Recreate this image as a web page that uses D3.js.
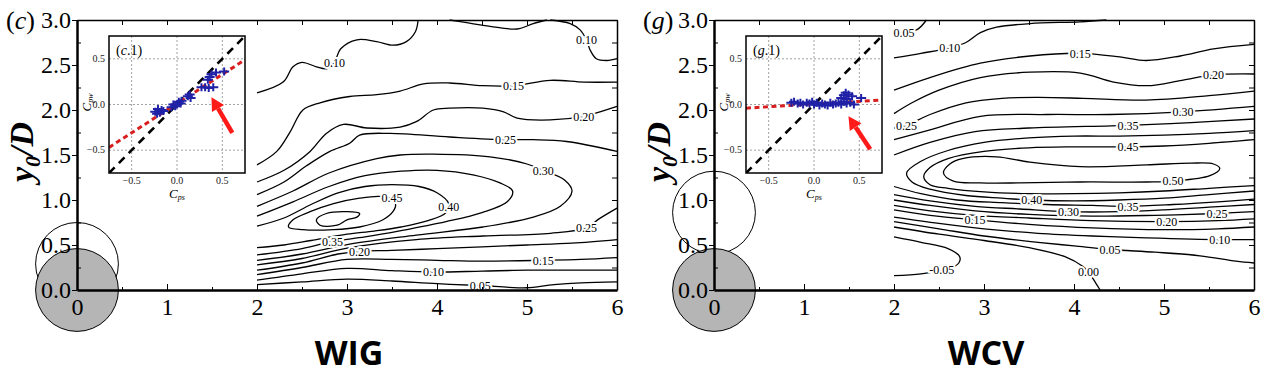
<!DOCTYPE html>
<html>
<head>
<meta charset="utf-8">
<script src="https://cdn.jsdelivr.net/npm/d3@7"></script>
<style>
body { margin: 0; background: #fff; }
text { font-family: "Liberation Serif", "Times New Roman", Times, serif; }
</style>
</head>
<body>
<div id="result"></div>
<script>
/* ---- data ---- */
var xTicks = [0, 1, 2, 3, 4, 5, 6];
var xMinor = [0.5, 1.5, 2.5, 3.5, 4.5, 5.5];
var yTicks = [0, 0.5, 1, 1.5, 2, 2.5, 3];
var yMinor = [0.25, 0.75, 1.25, 1.75, 2.25, 2.75];
var insetTicks = [-0.5, 0, 0.5];
var cylR = 0.46;

// cylinders: [x/D, y0/D, filled]
var wigCyl = [[0, 0.29, 0], [0, 0, 1]];
var wcvCyl = [[0, 0.86, 0], [0, 0, 1]];

// WIG contour lines [x/D, y0/D]
var wig010a = [[2.0,2.19],[2.29,2.31],[2.40,2.48],[2.50,2.53],[2.66,2.48],[2.78,2.46],[2.86,2.53],[2.93,2.68],[3.11,2.78],[3.33,2.76],[3.51,2.72],[3.66,2.76],[3.76,2.87],[3.79,3.0]];
var wig010b = [[4.14,3.0],[4.33,2.97],[4.59,2.93],[4.89,2.90],[5.07,2.96],[5.22,3.0]];
var wig010c = [[5.26,3.0],[5.48,2.96],[5.59,2.89],[5.66,2.78],[5.70,2.67],[5.77,2.57],[5.89,2.55],[6.0,2.57]];
var wig015a = [[2.0,1.39],[2.22,1.54],[2.37,1.76],[2.51,2.0],[2.70,2.08],[3.03,2.15],[3.33,2.17],[3.59,2.21],[3.85,2.29],[4.14,2.30],[4.51,2.27],[4.85,2.27],[5.26,2.33],[5.63,2.31],[6.0,2.31]];
var wig020a = [[2.0,1.20],[2.3,1.33],[2.59,1.54],[2.77,1.74],[2.96,1.84],[3.22,1.80],[3.59,1.81],[3.77,1.87],[3.96,2.0],[4.14,2.02],[4.51,2.02],[4.74,1.98],[4.89,1.91],[5.26,1.89],[5.63,1.93],[5.81,1.98],[6.0,2.04]];
var wig025a = [[2.0,1.06],[2.3,1.20],[2.55,1.38],[2.81,1.54],[3.03,1.63],[3.14,1.72],[3.48,1.74],[4.14,1.70],[4.76,1.67],[5.07,1.67],[5.44,1.65],[6.0,1.54]];
var wig030 = [[2.0,0.93],[2.4,1.10],[2.8,1.30],[3.33,1.46],[3.59,1.50],[3.96,1.51],[4.59,1.48],[5.0,1.40],[5.18,1.33],[5.42,1.22],[5.50,1.10],[5.37,0.93],[5.07,0.81],[4.51,0.70],[3.77,0.61],[3.03,0.51],[2.5,0.40],[2.0,0.33]];
var wig035 = [[2.0,0.82],[2.4,0.98],[2.8,1.15],[3.2,1.27],[3.6,1.32],[4.0,1.33],[4.4,1.28],[4.7,1.19],[4.84,1.10],[4.78,0.98],[4.5,0.86],[4.1,0.76],[3.6,0.66],[3.2,0.59],[2.84,0.54],[2.5,0.46],[2.0,0.39]];
var wig040 = [[2.0,0.71],[2.3,0.80],[2.6,0.95],[2.9,1.08],[3.2,1.15],[3.5,1.17],[3.8,1.15],[4.0,1.08],[4.13,0.96],[4.10,0.86],[3.9,0.77],[3.6,0.70],[3.3,0.655],[3.0,0.62],[2.6,0.55],[2.3,0.50],[2.0,0.47]];
var wig045 = [[3.51,0.87],[3.40,0.78],[3.14,0.70],[2.85,0.67],[2.51,0.67],[2.35,0.70],[2.40,0.78],[2.59,0.87],[2.85,0.96],[3.14,1.02],[3.37,1.04],[3.50,1.01],[3.54,0.95]];
var wig050 = [[2.66,0.78],[2.77,0.85],[3.0,0.87],[3.14,0.85],[3.11,0.81],[3.0,0.78],[2.89,0.72],[2.70,0.72]];
var wig025b = [[6.0,0.91],[5.8,0.79],[5.66,0.69],[5.26,0.63],[4.51,0.60],[3.77,0.56],[3.03,0.47],[2.5,0.35],[2.0,0.28]];
var wig020b = [[2.0,0.22],[2.5,0.30],[2.9,0.40],[3.14,0.43],[3.5,0.44],[4.0,0.46],[4.5,0.48],[5.0,0.50],[5.5,0.52],[6.0,0.56]];
var wig015b = [[2.0,0.17],[2.5,0.25],[3.0,0.34],[3.5,0.34],[4.0,0.33],[4.5,0.32],[5.18,0.33],[5.6,0.34],[6.0,0.36]];
var wig010d = [[2.0,0.11],[2.5,0.18],[3.0,0.24],[3.5,0.215],[3.96,0.20],[4.5,0.21],[5.0,0.22],[5.5,0.22],[6.0,0.22]];
var wig005 = [[2.0,0.06],[2.5,0.09],[3.0,0.12],[3.5,0.10],[4.0,0.07],[4.48,0.05],[4.8,0.03],[5.0,0.025],[5.3,0.06],[5.6,0.08],[6.0,0.09]];
var wigLabels = [["0.10",2.86,2.53],["0.10",5.66,2.78],["0.15",4.85,2.27],["0.20",5.63,1.93],["0.25",4.76,1.67],["0.30",5.18,1.33],["0.45",3.50,1.03],["0.40",4.13,0.93],["0.25",5.66,0.69],["0.35",2.84,0.54],["0.20",3.14,0.43],["0.15",5.18,0.33],["0.10",3.96,0.20],["0.05",4.48,0.05]];

// WCV contour lines
var wcv005a = [[2.0,2.85],[2.25,2.89],[2.36,3.0]];
var wcv010a = [[2.0,2.58],[2.3,2.63],[2.62,2.69],[2.8,2.75],[2.96,2.86],[3.14,2.92],[3.51,2.96],[4.07,2.98],[4.36,3.0]];
var wcv015a = [[2.0,2.22],[2.4,2.36],[2.96,2.52],[3.51,2.60],[4.07,2.63],[4.51,2.59],[4.8,2.55],[5.18,2.60],[5.55,2.68],[6.0,2.73]];
var wcv020a = [[2.0,1.96],[2.2,2.08],[2.5,2.22],[2.96,2.36],[3.51,2.42],[4.07,2.41],[4.44,2.31],[4.81,2.27],[5.2,2.33],[5.55,2.39],[6.0,2.40]];
var wcv025a = [[2.0,1.80],[2.14,1.83],[2.4,1.95],[2.8,2.08],[3.2,2.13],[3.6,2.14],[4.1,2.13],[4.8,2.11],[5.5,2.16],[6.0,2.21]];
var wcv030a = [[2.0,1.67],[2.4,1.78],[2.96,1.93],[3.7,1.95],[4.4,1.95],[5.21,1.98],[6.0,2.04]];
var wcv035a = [[2.0,1.50],[2.4,1.64],[2.9,1.76],[3.5,1.80],[4.6,1.83],[5.3,1.86],[6.0,1.90]];
var wcv040 = [[6.0,1.77],[5.5,1.74],[5.0,1.72],[4.5,1.71],[4.0,1.71],[3.5,1.69],[3.0,1.64],[2.6,1.55],[2.3,1.43],[2.14,1.30],[2.2,1.20],[2.4,1.12],[2.8,1.05],[3.2,1.02],[3.53,1.0],[4.0,0.99],[4.5,1.0],[5.0,1.02],[5.5,1.06],[6.0,1.10]];
var wcv045 = [[6.0,1.67],[5.5,1.63],[5.0,1.60],[4.6,1.59],[4.0,1.59],[3.5,1.58],[3.0,1.54],[2.6,1.46],[2.4,1.36],[2.33,1.26],[2.4,1.17],[2.6,1.13],[3.0,1.09],[3.5,1.07],[4.0,1.07],[4.5,1.08],[5.0,1.10],[5.5,1.13],[6.0,1.16]];
var wcv050 = [[2.55,1.30],[2.62,1.40],[2.76,1.46],[3.14,1.48],[3.51,1.42],[4.07,1.37],[4.81,1.39],[5.3,1.41],[5.55,1.40],[5.62,1.35],[5.51,1.27],[5.10,1.21],[4.81,1.20],[4.07,1.20],[3.4,1.19],[2.96,1.19],[2.66,1.21]];
var wcv035b = [[2.0,1.15],[2.3,1.07],[2.7,1.0],[3.2,0.97],[3.7,0.95],[4.2,0.94],[4.60,0.93],[5.1,0.95],[5.6,0.98],[6.0,1.01]];
var wcv030b = [[2.0,1.06],[2.4,0.99],[2.9,0.93],[3.4,0.90],[3.94,0.87],[4.5,0.87],[5.0,0.89],[5.5,0.92],[6.0,0.95]];
var wcv025b = [[2.0,1.0],[2.4,0.94],[2.9,0.88],[3.5,0.84],[4.2,0.82],[4.9,0.83],[5.59,0.85],[6.0,0.87]];
var wcv020b = [[2.0,0.94],[2.4,0.88],[2.9,0.83],[3.5,0.80],[4.2,0.77],[5.03,0.76],[5.6,0.77],[6.0,0.79]];
var wcv015b = [[2.0,0.89],[2.4,0.83],[2.90,0.78],[3.5,0.73],[4.2,0.69],[5.0,0.67],[5.6,0.68],[6.0,0.70]];
var wcv010b = [[2.0,0.81],[2.5,0.74],[3.0,0.68],[3.6,0.63],[4.2,0.60],[4.8,0.58],[5.62,0.56],[6.0,0.56]];
var wcv005b = [[2.0,0.76],[2.5,0.68],[3.0,0.60],[3.6,0.53],[4.0,0.49],[4.40,0.45],[4.9,0.42],[5.4,0.38],[5.8,0.32],[6.0,0.30]];
var wcv000 = [[2.0,0.70],[2.5,0.62],[3.0,0.55],[3.5,0.47],[3.9,0.37],[4.1,0.26],[4.16,0.20],[4.24,0.08],[4.29,0.0]];
var wcvM005 = [[2.0,0.59],[2.3,0.53],[2.6,0.46],[2.73,0.37],[2.72,0.30],[2.62,0.24],[2.53,0.22],[2.3,0.18],[2.0,0.16]];
var wcvLabels = [["0.05",2.11,2.86],["0.10",2.62,2.69],["0.15",4.07,2.63],["0.20",5.55,2.39],["0.25",2.14,1.83],["0.30",5.21,1.98],["0.35",4.60,1.83],["0.45",4.60,1.59],["0.50",5.10,1.21],["0.40",3.53,1.0],["0.35",4.60,0.93],["0.30",3.94,0.87],["0.25",5.59,0.85],["0.20",5.03,0.76],["0.15",2.90,0.78],["0.10",5.62,0.56],["0.05",4.40,0.45],["0.00",4.16,0.20],["-0.05",2.53,0.22]];

// insets: [Cps, Cpw]
var refLine = [[-0.75, -0.75], [0.75, 0.75]];
var wigFit = [[-0.75, -0.47], [0.75, 0.49]];
var wcvFit = [[-0.75, -0.04], [0.75, 0.05]];
var wigPts = [[-0.24,-0.08],[-0.21,-0.05],[-0.19,-0.09],[-0.17,-0.06],[-0.15,-0.07],[-0.22,-0.10],
  [-0.06,-0.03],[-0.04,0.0],[-0.02,-0.02],[0.0,0.0],[0.02,0.03],[0.04,0.01],[0.05,0.04],
  [0.12,0.09],[0.14,0.11],[0.15,0.07],
  [0.27,0.19],[0.31,0.19],[0.35,0.18],[0.40,0.19],
  [0.34,0.27],[0.36,0.30],[0.38,0.33],[0.43,0.35],[0.52,0.36]];
var wcvPts = [[-0.25,0.02],[-0.22,0.03],[-0.18,0.01],[-0.15,0.02],[-0.12,0.0],[-0.08,0.02],[-0.05,0.01],[-0.02,0.03],[0.0,0.0],[0.03,0.02],[0.06,-0.01],[0.09,0.01],[0.12,0.0],[0.15,-0.01],[0.18,0.02],[0.21,0.0],[0.24,0.01],[0.27,0.02],[0.30,0.0],[0.33,0.03],[0.36,0.01],[0.40,0.02],[0.44,0.0],
  [0.30,0.07],[0.33,0.10],[0.35,0.13],[0.38,0.11],[0.42,0.09],[0.36,0.06],[0.52,0.07]];
var wigArrow = [[0.61, -0.31], [0.38, 0.08]];
var wcvArrow = [[0.62, -0.49], [0.38, -0.13]];

/* ---- drawing ---- */
var serif = '"Liberation Serif", "Times New Roman", Times, serif';
var svg = d3.select("#result").append("svg").attr("width", 1269).attr("height", 375);

function styleTicks(ax, size) {
    ax.selectAll("text").style("font-family", serif).style("font-size", size + "px");
}

function drawPanel(left, P) {
    var g = svg.append("g");
    var x = d3.scaleLinear().domain([0, 6]).range([left, left + 540]);
    var y = d3.scaleLinear().domain([0, 3]).range([290, 20]);

    // cylinders (under everything)
    g.selectAll("circle.cyl").data(P.cyl).enter().append("circle")
        .attr("cx", function (d) { return x(d[0]); })
        .attr("cy", function (d) { return y(d[1]); })
        .attr("r", x(cylR) - x(0))
        .attr("fill", function (d) { return d[2] ? "#b5b5b5" : "none"; })
        .attr("stroke", "#000").attr("stroke-width", 1);

    // contours
    var line = d3.line().x(function (d) { return x(d[0]); }).y(function (d) { return y(d[1]); })
        .curve(d3.curveCatmullRom.alpha(0.5));
    var loop = d3.line().x(function (d) { return x(d[0]); }).y(function (d) { return y(d[1]); })
        .curve(d3.curveCatmullRomClosed.alpha(0.5));
    g.selectAll("path.cl").data(P.lines).enter().append("path")
        .attr("d", line).attr("fill", "none").attr("stroke", "#000").attr("stroke-width", 1.3);
    g.selectAll("path.lp").data(P.loops).enter().append("path")
        .attr("d", loop).attr("fill", "none").attr("stroke", "#000").attr("stroke-width", 1.3);
    g.selectAll("text.lab").data(P.labels).enter().append("text")
        .attr("x", function (d) { return x(d[1]); })
        .attr("y", function (d) { return y(d[2]); })
        .attr("dy", "0.35em").attr("text-anchor", "middle")
        .style("font-family", serif).style("font-size", "12px")
        .attr("stroke", "#fff").attr("stroke-width", 4).attr("paint-order", "stroke")
        .text(function (d) { return d[0]; });

    // axes
    var bot = g.append("g").attr("transform", "translate(0,290)")
        .call(d3.axisBottom(x).tickValues(xTicks).tickSize(-6).tickSizeOuter(0).tickPadding(8).tickFormat(d3.format("d")));
    bot.select(".domain").attr("stroke-width", 2.5);
    styleTicks(bot, 24);
    g.append("g").attr("transform", "translate(0,290)")
        .call(d3.axisBottom(x).tickValues(xMinor).tickSize(-3).tickFormat(""))
        .select(".domain").remove();

    var top = g.append("g").attr("transform", "translate(0,20)")
        .call(d3.axisTop(x).tickValues(xTicks.concat(xMinor)).tickSize(-5).tickSizeOuter(0).tickFormat(""));
    top.select(".domain").attr("stroke-width", 1.5);

    var lft = g.append("g").attr("transform", "translate(" + left + ",0)")
        .call(d3.axisLeft(y).tickValues(yTicks).tickSize(5).tickSizeOuter(0).tickPadding(1).tickFormat(d3.format(".1f")));
    lft.select(".domain").attr("stroke-width", 2.5);
    styleTicks(lft, 24);
    g.append("g").attr("transform", "translate(" + left + ",0)")
        .call(d3.axisLeft(y).tickValues(yMinor).tickSize(-4).tickFormat(""))
        .select(".domain").remove();

    var rgt = g.append("g").attr("transform", "translate(" + (left + 540) + ",0)")
        .call(d3.axisRight(y).tickValues(yTicks.concat(yMinor)).tickSize(-5).tickSizeOuter(0).tickFormat(""));
    rgt.select(".domain").attr("stroke-width", 1.5);

    // panel letter
    var pl = svg.append("text").attr("x", left - 71).attr("y", 29)
        .style("font-family", serif).style("font-size", "26px");
    pl.append("tspan").text("(");
    pl.append("tspan").style("font-style", "italic").text(P.letter);
    pl.append("tspan").text(")");

    // y title
    var yt = svg.append("text").attr("transform", "translate(" + (left - 44) + ",152) rotate(-90)")
        .attr("text-anchor", "middle")
        .style("font-family", serif).style("font-size", "34px")
        .style("font-weight", "bold").style("font-style", "italic");
    yt.append("tspan").text("y");
    yt.append("tspan").attr("dy", 7).style("font-size", "22px").text("0");
    yt.append("tspan").attr("dy", -7).text("/D");

    // x title
    svg.append("text").attr("x", left + 272).attr("y", 365).attr("text-anchor", "middle")
        .style("font-family", '"Open Sans", sans-serif').style("font-weight", "bold")
        .style("font-size", "34px").text(P.title);

    drawInset(g, left + 32, 36, 136, 137, P);
}

function drawInset(g, ix, iy, iw, ih, P) {
    var xi = d3.scaleLinear().domain([-0.75, 0.75]).range([ix, ix + iw]);
    var yi = d3.scaleLinear().domain([-0.75, 0.75]).range([iy + ih, iy]);
    var ins = g.append("g");
    var clipId = "clip" + P.letter;
    ins.append("clipPath").attr("id", clipId).append("rect")
        .attr("x", ix).attr("y", iy).attr("width", iw).attr("height", ih);
    ins.append("rect").attr("x", ix).attr("y", iy).attr("width", iw).attr("height", ih).attr("fill", "#fff");

    // grid
    ins.selectAll("line.gx").data(insetTicks).enter().append("line")
        .attr("x1", function (d) { return xi(d); }).attr("x2", function (d) { return xi(d); })
        .attr("y1", iy).attr("y2", iy + ih)
        .attr("stroke", "#8a8a8a").attr("stroke-width", 0.8).attr("stroke-dasharray", "2,2");
    ins.selectAll("line.gy").data(insetTicks).enter().append("line")
        .attr("y1", function (d) { return yi(d); }).attr("y2", function (d) { return yi(d); })
        .attr("x1", ix).attr("x2", ix + iw)
        .attr("stroke", "#8a8a8a").attr("stroke-width", 0.8).attr("stroke-dasharray", "2,2");

    var ln = d3.line().x(function (d) { return xi(d[0]); }).y(function (d) { return yi(d[1]); });
    var body = ins.append("g").attr("clip-path", "url(#" + clipId + ")");
    body.append("path").attr("d", ln(refLine)).attr("fill", "none")
        .attr("stroke", "#000").attr("stroke-width", 2.6).attr("stroke-dasharray", "8,6");
    body.append("path").attr("d", ln(P.fit)).attr("fill", "none")
        .attr("stroke", "#d81e1e").attr("stroke-width", 3).attr("stroke-dasharray", "5,3.5");
    body.selectAll("path.pt").data(P.pts).enter().append("path")
        .attr("transform", function (d) { return "translate(" + xi(d[0]) + "," + yi(d[1]) + ")"; })
        .attr("d", "M-5,0H5M0,-4V4").attr("stroke", "#1f22a6").attr("stroke-width", 2);

    // arrow
    var t = [xi(P.arrow[0][0]), yi(P.arrow[0][1])], h = [xi(P.arrow[1][0]), yi(P.arrow[1][1])];
    var ang = Math.atan2(h[1] - t[1], h[0] - t[0]);
    var hl = 13, hw = 7;
    var b = [h[0] - hl * Math.cos(ang), h[1] - hl * Math.sin(ang)];
    body.append("line").attr("x1", t[0]).attr("y1", t[1]).attr("x2", b[0]).attr("y2", b[1])
        .attr("stroke", "#ff1a1a").attr("stroke-width", 4.5);
    body.append("path").attr("fill", "#ff1a1a")
        .attr("d", "M" + h[0] + "," + h[1] +
            "L" + (b[0] + hw * Math.sin(ang)) + "," + (b[1] - hw * Math.cos(ang)) +
            "L" + (b[0] - hw * Math.sin(ang)) + "," + (b[1] + hw * Math.cos(ang)) + "Z");

    ins.append("rect").attr("x", ix).attr("y", iy).attr("width", iw).attr("height", ih)
        .attr("fill", "none").attr("stroke", "#000").attr("stroke-width", 1.5);

    // tick labels
    var f = d3.format(".1f");
    ins.selectAll("text.ty").data(insetTicks).enter().append("text")
        .attr("x", ix - 4).attr("y", function (d) { return yi(d); }).attr("dy", "0.32em")
        .attr("text-anchor", "end").style("font-family", serif).style("font-size", "10px").attr("fill", "#222")
        .text(function (d) { return f(d); });
    ins.selectAll("text.tx").data(insetTicks).enter().append("text")
        .attr("x", function (d) { return xi(d); }).attr("y", iy + ih + 11)
        .attr("text-anchor", "middle").style("font-family", serif).style("font-size", "10px").attr("fill", "#222")
        .text(function (d) { return f(d); });

    var xl = ins.append("text").attr("x", ix + iw / 2).attr("y", iy + ih + 25).attr("text-anchor", "middle")
        .style("font-family", serif).style("font-size", "13px").style("font-style", "italic");
    xl.append("tspan").text("C");
    xl.append("tspan").attr("dy", 2).style("font-size", "8px").text("ps");
    var yl = ins.append("text").attr("transform", "translate(" + (ix - 18) + "," + (iy + ih / 2 - 2) + ") rotate(-90)")
        .attr("text-anchor", "middle")
        .style("font-family", serif).style("font-size", "13px").style("font-style", "italic");
    yl.append("tspan").text("C");
    yl.append("tspan").attr("dy", 2).style("font-size", "8px").text("pw");

    var tt = ins.append("text").attr("x", ix + 7).attr("y", iy + 19)
        .style("font-family", serif).style("font-size", "14px");
    tt.append("tspan").text("(");
    tt.append("tspan").style("font-style", "italic").text(P.letter);
    tt.append("tspan").text(".1)");
}

drawPanel(77, {
    letter: "c", title: "WIG", cyl: wigCyl,
    lines: [wig010a, wig010b, wig010c, wig015a, wig020a, wig025a, wig030, wig035, wig040,
            wig025b, wig020b, wig015b, wig010d, wig005],
    loops: [wig045, wig050],
    labels: wigLabels,
    fit: wigFit, pts: wigPts, arrow: wigArrow
});
drawPanel(714, {
    letter: "g", title: "WCV", cyl: wcvCyl,
    lines: [wcv005a, wcv010a, wcv015a, wcv020a, wcv025a, wcv030a, wcv035a, wcv040, wcv045,
            wcv035b, wcv030b, wcv025b, wcv020b, wcv015b, wcv010b, wcv005b, wcv000, wcvM005],
    loops: [wcv050],
    labels: wcvLabels,
    fit: wcvFit, pts: wcvPts, arrow: wcvArrow
});
</script>
</body>
</html>
